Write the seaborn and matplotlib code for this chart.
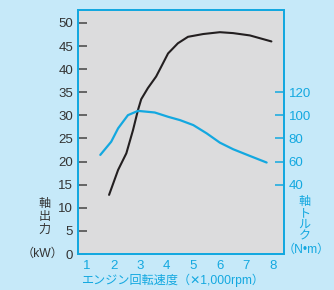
import matplotlib
matplotlib.use("Agg")
import matplotlib.pyplot as plt
import seaborn as sns
import pandas as pd

# engine speed (x1,000 rpm) and shaft output (kW)
power_rpm = [1.83, 2.17, 2.48, 2.73, 2.92, 3.04, 3.29, 3.6, 3.79, 4.05, 4.42, 4.8, 5.37, 6.0, 6.5, 7.13, 7.94]
power_kw = [12.8, 18.2, 21.8, 26.8, 31.2, 33.5, 35.9, 38.4, 40.5, 43.4, 45.6, 47.0, 47.6, 48.0, 47.8, 47.3, 46.0]

# engine speed and shaft torque (N·m)
torque_rpm = [1.5, 1.91, 2.17, 2.54, 2.92, 3.55, 4.05, 4.5, 5.0, 5.5, 6.0, 6.5, 7.13, 7.76]
torque_nm = [65.8, 77.2, 88.8, 100.2, 103.9, 102.5, 98.8, 95.9, 91.6, 84.5, 76.4, 70.7, 64.9, 59.2]

x_ticks = [1, 2, 3, 4, 5, 6, 7, 8]
kw_ticks = [0, 5, 10, 15, 20, 25, 30, 35, 40, 45, 50]
nm_ticks = [40, 60, 80, 100, 120]

bg = "#c6e9f9"
blue = "#13a8e0"
dark = "#231f20"
grey_txt = "#333333"

sns.set_style("white")
plt.rcParams["font.family"] = ["Liberation Sans", "Noto Sans CJK JP", "DejaVu Sans"]

power = pd.DataFrame({"rpm": power_rpm, "kw": power_kw})
torque = pd.DataFrame({"rpm": torque_rpm, "nm": torque_nm})

fig = plt.figure(figsize=(3.34, 2.9), dpi=100, facecolor=bg)
ax = fig.add_axes([0.2335, 0.124, 0.6165, 0.8415])
ax.set_facecolor("#dcdcdd")
ax2 = ax.twinx()

sns.lineplot(data=power, x="rpm", y="kw", ax=ax, color=dark, linewidth=1.5)
sns.lineplot(data=torque, x="rpm", y="nm", ax=ax2, color=blue, linewidth=1.6)

ax.set_xlim(0.66, 8.41)
ax.set_ylim(0, 52.8)
ax2.set_ylim(-20, 4 * 52.8 - 20)

ax.set_xticks(x_ticks)
ax.set_yticks(kw_ticks)
ax2.set_yticks(nm_ticks)

ax.tick_params(axis="y", direction="in", length=6.5, width=1.1, color="#444444",
               labelsize=9.5, labelcolor=grey_txt, pad=3.5)
ax.tick_params(axis="x", direction="in", length=6.5, width=1.1, color=blue,
               labelsize=9.5, labelcolor=blue, pad=4)
ax2.tick_params(axis="y", direction="in", length=6.5, width=1.1, color=blue,
                labelsize=9.5, labelcolor=blue, pad=3.5)

for a in (ax, ax2):
    for s in a.spines.values():
        s.set_color(blue)
        s.set_linewidth(1.3)

ax.set_xlabel("")
ax.set_ylabel("")
ax2.set_ylabel("")

fig.text(0.52, 0.035, "エンジン回転速度（✕1,000rpm）", color=blue, fontsize=8.7,
         ha="center", va="center")
fig.text(0.133, 0.252, "軸\n出\n力", color=grey_txt, fontsize=8.7,
         ha="center", va="center", linespacing=1.05)
fig.text(0.19, 0.124, "（kW）", color=grey_txt, fontsize=8.7, ha="right", va="center")
fig.text(0.912, 0.245, "軸\nト\nル\nク", color=blue, fontsize=8.7,
         ha="center", va="center", linespacing=0.95)
fig.text(0.988, 0.138, "（N•m）", color=blue, fontsize=8.7, ha="right", va="center")

fig.savefig("out.png", dpi=100, facecolor=bg)
